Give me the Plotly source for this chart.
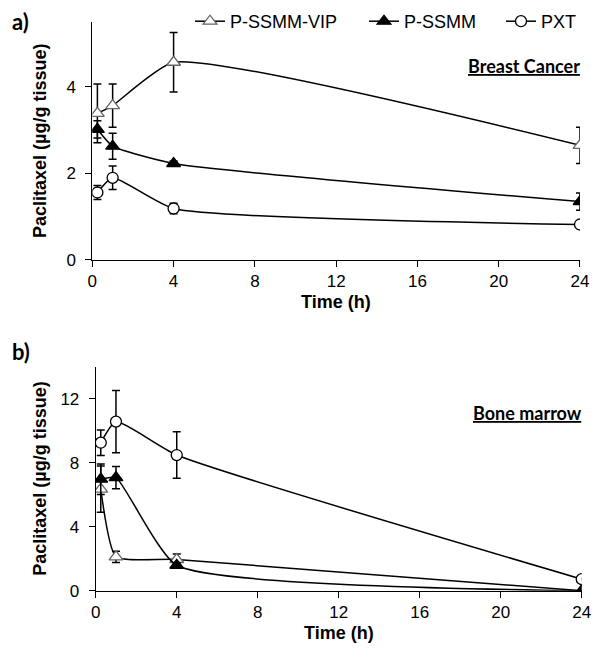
import plotly.graph_objects as go

time_h = [0.25, 1, 4, 24]

# Panel a) Breast Cancer
a_vip = [3.39, 3.57, 4.57, 2.65]
a_vip_err = [0.68, 0.50, 0.69, 0.42]
a_ssmm = [3.02, 2.63, 2.23, 1.35]
a_ssmm_err = [0.20, 0.30, 0.06, 0.20]
a_pxt = [1.56, 1.90, 1.19, 0.82]
a_pxt_err = [0.16, 0.27, 0.12, 0.09]

# Panel b) Bone marrow
b_vip = [6.35, 2.12, 1.95, 0.0]
b_vip_err = [1.45, 0.35, 0.35, 0.0]
b_ssmm = [6.97, 7.07, 1.59, 0.0]
b_ssmm_err = [0.95, 0.70, 0.15, 0.0]
b_pxt = [9.25, 10.57, 8.48, 0.72]
b_pxt_err = [0.80, 1.95, 1.45, 0.05]

x_ticks = [0, 4, 8, 12, 16, 20, 24]
a_y_ticks = [0, 2, 4]
b_y_ticks = [0, 4, 8, 12]

names = ["P-SSMM-VIP", "P-SSMM", "PXT"]
symbols = ["triangle-up", "triangle-up", "circle"]
fills = ["white", "black", "white"]
mlines = ["#666666", "black", "black"]
msizes = [12, 12, 11]
legend_ids = ["legend", "legend2", "legend3"]

fig = go.Figure()

series = [
    ("x", "y", [a_vip, a_ssmm, a_pxt], [a_vip_err, a_ssmm_err, a_pxt_err], True),
    ("x2", "y2", [b_vip, b_ssmm, b_pxt], [b_vip_err, b_ssmm_err, b_pxt_err], False),
]
for xa, ya, vals, errs, show in series:
    for i in range(3):
        fig.add_trace(go.Scatter(
            x=time_h, y=vals[i], xaxis=xa, yaxis=ya,
            name=names[i], showlegend=show, legend=legend_ids[i],
            mode="lines+markers",
            line=dict(color="black", width=1.5, shape="spline", smoothing=0.5),
            marker=dict(symbol=symbols[i], size=msizes[i], color=fills[i],
                        line=dict(color=mlines[i], width=1.3)),
            error_y=dict(type="data", array=errs[i], visible=True,
                         color="black", thickness=1.5, width=4),
        ))

FONT = "Liberation Sans"
axis_font = dict(family=FONT, size=17, color="black")
title_font = dict(family=FONT, size=18, color="black")

common_x = dict(range=[0, 24], tickvals=x_ticks, ticks="outside", ticklen=6,
                tickcolor="black", showline=True, linecolor="black", linewidth=1,
                showgrid=False, zeroline=False, tickfont=axis_font)
common_y = dict(ticks="outside", ticklen=6, tickcolor="black", showline=True,
                linecolor="black", linewidth=1, showgrid=False, zeroline=False,
                tickfont=axis_font, ticklabelstandoff=6)

W, H = 593, 652  # page body has an 8px margin

leg_font = dict(family=FONT, size=18, color="black")
leg_common = dict(orientation="h", xref="container", yref="paper",
                  yanchor="top", xanchor="left", y=1.0 + 5 / H, font=leg_font,
                  itemwidth=30, bgcolor="rgba(0,0,0,0)", borderwidth=0)

dom_a = [0.6135, 0.9785]
dom_b = [0.1063, 0.4498]

fig.update_layout(
    width=W, height=H,
    margin=dict(l=82, r=18, t=0, b=0, autoexpand=False),
    paper_bgcolor="white", plot_bgcolor="white",
    xaxis=dict(domain=[0.0047, 0.9939], anchor="y", **common_x),
    yaxis=dict(domain=dom_a, anchor="x", range=[0, 5.5],
               tickvals=a_y_ticks, **common_y),
    xaxis2=dict(domain=[0.0116, 0.9974], anchor="y2", **common_x),
    yaxis2=dict(domain=dom_b, anchor="x2", range=[0, 14],
                tickvals=b_y_ticks, **common_y),
    legend=dict(x=182 / W, **leg_common),
    legend2=dict(x=356 / W, **leg_common),
    legend3=dict(x=493 / W, **leg_common),
    showlegend=True,
)

# axis titles as annotations
for dom in (dom_a, dom_b):
    fig.add_annotation(x=0, y=(dom[0] + dom[1]) / 2, xref="paper", yref="paper",
                       xanchor="center", yanchor="middle", textangle=-90,
                       text="<b>Paclitaxel (µg/g tissue)</b>", showarrow=False, xshift=-50,
                       font=title_font)
for xa, dom in (("x", dom_a), ("x2", dom_b)):
    fig.add_annotation(x=12, y=dom[0], xref=xa, yref="paper",
                       xanchor="center", yanchor="middle",
                       text="<b>Time (h)</b>", showarrow=False, yshift=-42,
                       font=title_font)

fig.add_annotation(x=0, y=1 - 14 / H, xref="paper", yref="paper", xanchor="left", yanchor="middle",
                   text="<b>a)</b>", showarrow=False, xshift=-80,
                   font=dict(family="Lato", size=22, color="black"))
fig.add_annotation(x=0, y=1 - 344 / H, xref="paper", yref="paper", xanchor="left", yanchor="middle",
                   text="<b>b)</b>", showarrow=False, xshift=-80,
                   font=dict(family="Lato", size=22, color="black"))
fig.add_annotation(x=24, y=4.48, xref="x", yref="y", xanchor="right", yanchor="middle",
                   text="<b><u>Breast Cancer</u></b>", showarrow=False, xshift=2,
                   font=dict(family="Lato", size=18, color="black"))
fig.add_annotation(x=24, y=11.1, xref="x2", yref="y2", xanchor="right", yanchor="middle",
                   text="<b><u>Bone marrow</u></b>", showarrow=False, xshift=2,
                   font=dict(family="Lato", size=18, color="black"))

fig.write_html("out.html")
